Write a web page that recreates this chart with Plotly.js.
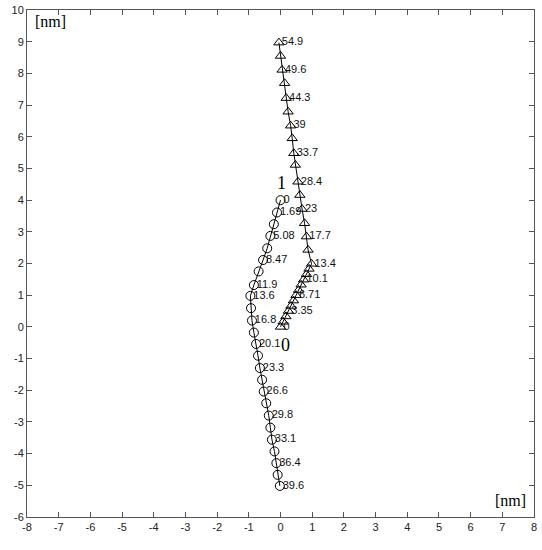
<!DOCTYPE html>
<html>
<head>
<meta charset="utf-8">
<script src="https://cdn.plot.ly/plotly-3.0.1.min.js"></script>
<style>html,body{margin:0;padding:0;background:#fff;}#chart{width:542px;height:550px;}</style>
</head>
<body>
<div id="chart"></div>
<script>
// Triangle series (site 0 -> upward), nm
const triX = [0, 0.08, 0.17, 0.25, 0.33, 0.41, 0.49, 0.57, 0.65, 0.73, 0.82, 0.90, 0.98,
              0.87, 0.82, 0.76, 0.68, 0.61, 0.55, 0.47, 0.42, 0.37, 0.32, 0.24, 0.18, 0.13, 0.05, 0, -0.05];
const triY = [0, 0.16, 0.33, 0.50, 0.66, 0.83, 1.00, 1.16, 1.33, 1.49, 1.66, 1.83, 1.99,
              2.43, 2.85, 3.27, 3.72, 4.16, 4.58, 5.11, 5.48, 5.95, 6.35, 6.79, 7.22, 7.69, 8.11, 8.55, 8.97];
const triLabels = ["0", "", "", "3.35", "", "", "6.71", "", "", "10.1", "", "", "13.4",
                   "", "17.7", "", "23", "", "28.4", "", "33.7", "", "39", "", "44.3", "", "49.6", "", "54.9"];

// Circle series (site 1 -> downward), nm
const cirX = [0, -0.11, -0.21, -0.32, -0.42, -0.55, -0.69, -0.84, -0.95, -0.93, -0.90, -0.84, -0.77,
              -0.71, -0.65, -0.58, -0.53, -0.45, -0.37, -0.32, -0.27, -0.19, -0.13, -0.09, -0.02];
const cirY = [4.0, 3.61, 3.24, 2.87, 2.48, 2.11, 1.75, 1.32, 0.98, 0.59, 0.20, -0.18, -0.54,
              -0.91, -1.30, -1.67, -2.04, -2.41, -2.80, -3.18, -3.56, -3.93, -4.30, -4.67, -5.02];
const cirLabels = ["0", "1.69", "", "5.08", "", "8.47", "", "11.9", "13.6", "", "16.8", "", "20.1",
                   "", "23.3", "", "26.6", "", "29.8", "", "33.1", "", "36.4", "", "39.6"];

const xTicks = [-8, -7, -6, -5, -4, -3, -2, -1, 0, 1, 2, 3, 4, 5, 6, 7, 8];
const yTicks = [-6, -5, -4, -3, -2, -1, 0, 1, 2, 3, 4, 5, 6, 7, 8, 9, 10];

const siteNames = ["1", "0"];
const siteX = [0.03, 0.17];
const siteY = [4.55, -0.57];
const unitLabel = "[nm]";

const labelFont = {family: "Liberation Sans, Arial, sans-serif", size: 11, color: "#111"};

const traces = [
  {x: triX, y: triY, mode: "lines+markers", type: "scatter",
   line: {color: "#000", width: 1},
   marker: {symbol: "triangle-up-open", size: 9, color: "#000", line: {width: 1, color: "#000"}},
   hoverinfo: "skip"},
  {x: cirX, y: cirY, mode: "lines+markers", type: "scatter",
   line: {color: "#000", width: 1},
   marker: {symbol: "circle-open", size: 9, color: "#000", line: {width: 1, color: "#000"}},
   hoverinfo: "skip"},
  {x: triX, y: triY, text: triLabels, mode: "markers+text", type: "scatter",
   marker: {size: 3, opacity: 0},
   textposition: "middle right", textfont: labelFont, hoverinfo: "skip"},
  {x: cirX, y: cirY, text: cirLabels, mode: "markers+text", type: "scatter",
   marker: {size: 3, opacity: 0},
   textposition: "middle right", textfont: labelFont, hoverinfo: "skip"}
];

const serif = {family: "Liberation Serif, Times New Roman, serif", color: "#000"};

const annotations = siteNames.map((t, i) => ({
  x: siteX[i], y: siteY[i], xref: "x", yref: "y", text: t, showarrow: false,
  font: Object.assign({size: 18}, serif), xanchor: "center", yanchor: "middle"
}));
annotations.push({x: 0.012, y: 0.998, xref: "paper", yref: "paper", text: unitLabel, showarrow: false,
  font: Object.assign({size: 16}, serif), xanchor: "left", yanchor: "top"});
annotations.push({x: 0.988, y: 0.012, xref: "paper", yref: "paper", text: unitLabel, showarrow: false,
  font: Object.assign({size: 16}, serif), xanchor: "right", yanchor: "bottom"});

const axisCommon = {
  showgrid: false, zeroline: false, showline: true, linecolor: "#555", linewidth: 1,
  mirror: "ticks", ticks: "inside", ticklen: 5, tickcolor: "#555", tickwidth: 1,
  tickfont: {family: "Liberation Sans, Arial, sans-serif", size: 11, color: "#222"}
};

const layout = {
  width: 542, height: 550,
  margin: {l: 27, r: 8, t: 10, b: 33, pad: 0},
  paper_bgcolor: "#fff", plot_bgcolor: "#fff",
  showlegend: false,
  xaxis: Object.assign({range: [-8, 8], tickvals: xTicks, ticktext: xTicks.map(String)}, axisCommon),
  yaxis: Object.assign({range: [-6, 10], tickvals: yTicks, ticktext: yTicks.map(String)}, axisCommon),
  annotations: annotations
};

Plotly.newPlot("chart", traces, layout, {staticPlot: true, displayModeBar: false});
</script>
</body>
</html>
